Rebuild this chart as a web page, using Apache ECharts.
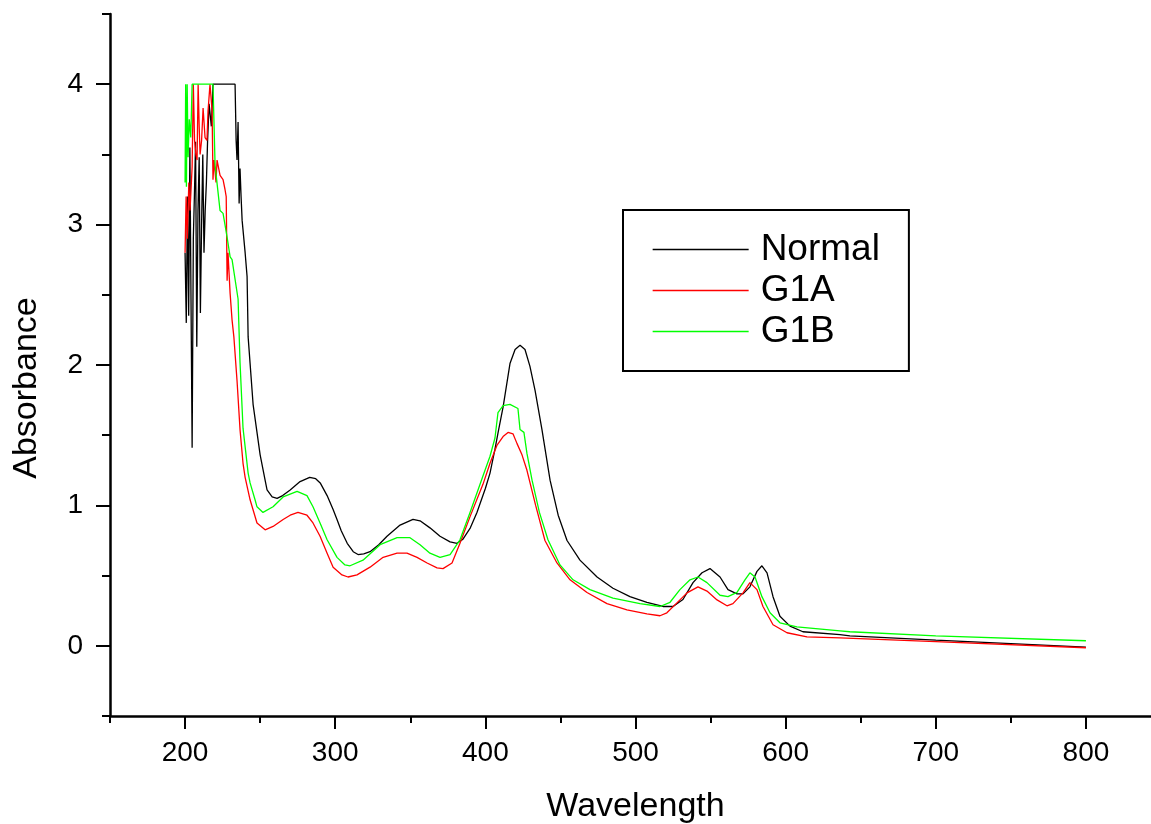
<!DOCTYPE html>
<html>
<head>
<meta charset="utf-8">
<script src="https://cdn.jsdelivr.net/npm/echarts@6/dist/echarts.min.js"></script>
<style>html,body{margin:0;padding:0;background:#fff;}#c{width:1151px;height:824px;}</style>
</head>
<body>
<div id="c"></div>
<script>
const seriesNames = ['Normal', 'G1A', 'G1B'];
const xMajorTicks = [200, 300, 400, 500, 600, 700, 800];
const xMinorTicks = [150, 250, 350, 450, 550, 650, 750, 850];
const yMajorTicks = [0, 1, 2, 3, 4];
const yMinorTicks = [-0.5, 0.5, 1.5, 2.5, 3.5, 4.5];

const normalWl = [200,200.8,201.6,202.4,203.2,204,204.7,205.5,206.2,207,207.8,208.6,209.4,210.2,211,211.8,212.6,213.4,214.2,215,216,217.5,218.6,233.3,234,234.6,235.3,236,236.6,237.3,238,240,241.3,242,245.3,250,253.3,254.6,258,261.3,265,270,276.6,283,287,290,294.6,298.6,301.2,304,308,312,315.2,319,323.2,329,334.5,343.2,351.8,356.5,363.1,369.8,376.5,381.1,385.1,390,394.4,400,403.1,406.4,408.5,411.8,416.4,419.8,423.1,426.4,429.7,433.1,437.7,443.1,448.5,454.4,463,474.4,485,496.3,507.6,518.3,525,531.6,538.3,544.3,549.6,556.3,561.6,567.6,571.6,576.2,580.9,584.2,587.6,591.6,596.2,602.9,611.5,636.2,642.8,700,800];
const normalAbs = [2.8,2.3,3.2,2.35,3.55,2.4,1.41,2.9,3.2,3.59,2.13,3.1,3.48,2.37,3.0,3.5,2.8,3.1,3.3,3.6,3.86,3.7,4.0,4.0,3.6,3.46,3.73,3.15,3.4,3.2,3.03,2.8,2.63,2.2,1.72,1.36,1.18,1.11,1.06,1.05,1.07,1.11,1.17,1.20,1.19,1.16,1.07,0.97,0.90,0.82,0.73,0.67,0.65,0.655,0.67,0.72,0.78,0.86,0.90,0.89,0.84,0.78,0.74,0.73,0.76,0.84,0.95,1.12,1.23,1.40,1.52,1.70,2.01,2.11,2.14,2.11,1.99,1.82,1.54,1.18,0.93,0.75,0.61,0.49,0.41,0.35,0.31,0.28,0.28,0.33,0.45,0.52,0.55,0.49,0.40,0.37,0.37,0.42,0.53,0.57,0.52,0.35,0.21,0.14,0.10,0.08,0.07,0.04,-0.01];

const g1aWl = [200,200.7,201.5,202.5,203.3,204.7,205.5,206.3,207.2,208,208.7,209.4,210,211,212,213.3,214.6,215.3,216.6,218,218.6,219.3,220.6,221.3,223.3,225.3,226.6,227.4,228,228.6,230,231.3,232.5,234.6,236.6,238.6,240,243.3,247.9,253.3,258.6,265.3,270,275.2,281.2,285.2,289.9,294.6,298.6,304.5,308.5,314.5,323.2,331.9,341.2,347.8,354.5,361.2,367.8,371.8,377.8,383.1,389.8,398.4,403.1,407.8,411.8,415.1,418.4,421.1,424.4,427.7,433.5,439.7,447.7,456.4,467.7,481,494.3,507.6,516.3,520.9,527.6,534.3,541.6,547.6,554.3,560.9,564.9,571.6,576.2,580.9,584.9,591.6,600.9,614.2,636.2,700,800];
const g1aAbs = [2.8,3.2,2.9,3.3,3.1,3.41,4.0,3.6,3.5,3.46,4.0,3.7,3.5,3.6,3.83,3.62,3.6,3.81,4.0,3.81,3.32,3.46,3.3,3.46,3.35,3.32,3.25,3.2,2.6,2.8,2.51,2.32,2.2,1.89,1.54,1.30,1.20,1.04,0.875,0.826,0.85,0.90,0.93,0.95,0.93,0.875,0.78,0.66,0.56,0.505,0.49,0.505,0.56,0.63,0.66,0.66,0.63,0.59,0.555,0.55,0.59,0.73,0.92,1.15,1.30,1.43,1.49,1.52,1.51,1.44,1.36,1.25,1.0,0.75,0.59,0.47,0.38,0.30,0.256,0.228,0.214,0.235,0.306,0.377,0.42,0.39,0.327,0.285,0.30,0.377,0.45,0.40,0.28,0.15,0.093,0.064,0.057,0.03,-0.014];

const g1bWl = [200,200.4,200.9,201.4,202,202.8,203.8,204.7,218.6,220,223.3,225.3,228,230,231.3,235.3,236.6,238.6,242,243.3,246.6,247.9,251.9,258.6,265.3,274.6,281.2,285.2,289.9,294.6,301.2,306.5,309.9,318.5,329.9,341.2,349.8,356.5,363.1,369.8,376.5,383.1,389.8,398.4,403.1,406.4,408.4,411.8,416.4,421.7,423.1,425.7,427.7,431.1,436,441.7,449.7,458.4,469.7,485,503,516.3,523,529.6,536.3,541.6,547.6,556.3,561.6,567.6,572.9,576.2,579.6,584.2,589.6,596.2,607.5,636.2,642.8,700,800];
const g1bAbs = [3.3,4.0,3.27,4.0,3.48,3.75,3.62,4.0,4.0,3.42,3.1,3.08,2.91,2.77,2.75,2.47,2.02,1.55,1.23,1.16,1.04,0.99,0.95,0.99,1.06,1.10,1.07,0.99,0.875,0.755,0.63,0.576,0.57,0.61,0.72,0.77,0.77,0.72,0.66,0.63,0.65,0.755,0.95,1.21,1.35,1.48,1.66,1.71,1.72,1.69,1.54,1.52,1.37,1.18,0.95,0.755,0.576,0.47,0.40,0.34,0.30,0.28,0.31,0.40,0.47,0.49,0.45,0.36,0.35,0.38,0.47,0.52,0.49,0.35,0.235,0.164,0.135,0.107,0.10,0.07,0.036];

const pair = (xs, ys) => xs.map((x, i) => [x, ys[i]]);
const FONT = '"Liberation Sans", Arial, sans-serif';

const chart = echarts.init(document.getElementById('c'), null, {renderer: 'canvas'});
const axisCommon = {type: 'value', splitLine: {show: false}};
const mk = (name, color, xs, ys) => ({
  name, type: 'line', data: pair(xs, ys), symbol: 'none', showSymbol: false,
  sampling: null, smooth: false, animation: false,
  lineStyle: {color, width: 1.3}, itemStyle: {color},
  xAxisIndex: 0, yAxisIndex: 0
});

chart.setOption({
  backgroundColor: '#ffffff',
  animation: false,
  grid: {left: 110, top: 14, right: -10, bottom: 108, containLabel: false, outerBoundsMode: 'none'},
  legend: {
    orient: 'vertical', left: 623, top: 210,
    data: seriesNames,
    padding: [21, 29, 21, 29],
    borderColor: '#000', borderWidth: 2,
    itemWidth: 96, itemHeight: 34, itemGap: 4,
    itemStyle: {opacity: 0, borderWidth: 0},
    lineStyle: {width: 1.3},
    textStyle: {fontFamily: FONT, fontSize: 37, color: '#000', lineHeight: 34, padding: [0, 0, 0, 7]}
  },
  xAxis: [
    Object.assign({}, axisCommon, {
      min: 150, max: 850, position: 'bottom',
      name: 'Wavelength', nameLocation: 'middle', nameGap: 74,
      nameTextStyle: {fontFamily: FONT, fontSize: 34, color: '#000'},
      axisLine: {show: true, onZero: false, lineStyle: {color: '#000', width: 2.5}},
      axisTick: {show: true, inside: false, length: 13, lineStyle: {color: '#000', width: 2}, customValues: xMajorTicks},
      axisLabel: {show: true, margin: 23, fontFamily: FONT, fontSize: 28, color: '#000', customValues: xMajorTicks}
    }),
    Object.assign({}, axisCommon, {
      min: 150, max: 850, position: 'bottom',
      axisLine: {show: false, onZero: false},
      axisTick: {show: true, inside: false, length: 7, lineStyle: {color: '#000', width: 2}, customValues: xMinorTicks},
      axisLabel: {show: false}
    })
  ],
  yAxis: [
    Object.assign({}, axisCommon, {
      min: -0.5, max: 4.5, position: 'left',
      name: 'Absorbance', nameLocation: 'middle', nameGap: 66,
      nameTextStyle: {fontFamily: FONT, fontSize: 34, color: '#000', padding: [0, 46, 0, 0]},
      axisLine: {show: true, onZero: false, lineStyle: {color: '#000', width: 2.5}},
      axisTick: {show: true, inside: false, length: 14, lineStyle: {color: '#000', width: 2}, customValues: yMajorTicks},
      axisLabel: {show: true, margin: 27, fontFamily: FONT, fontSize: 28, color: '#000', customValues: yMajorTicks}
    }),
    Object.assign({}, axisCommon, {
      min: -0.5, max: 4.5, position: 'left',
      axisLine: {show: false, onZero: false},
      axisTick: {show: true, inside: false, length: 8, lineStyle: {color: '#000', width: 2}, customValues: yMinorTicks},
      axisLabel: {show: false}
    })
  ],
  series: [
    mk(seriesNames[0], '#000000', normalWl, normalAbs),
    mk(seriesNames[1], '#ff0000', g1aWl, g1aAbs),
    mk(seriesNames[2], '#00ff00', g1bWl, g1bAbs)
  ]
});
</script>
</body>
</html>
